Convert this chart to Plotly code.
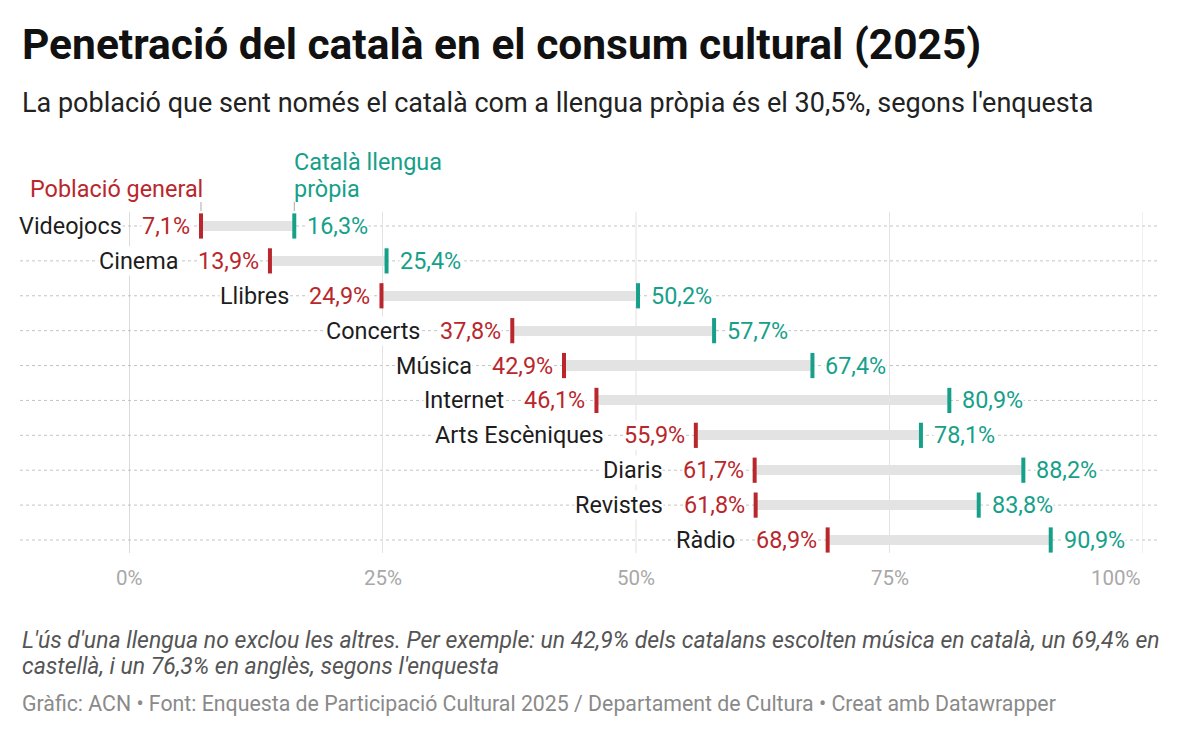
import plotly.graph_objects as go

categories = ["Videojocs", "Cinema", "Llibres", "Concerts", "Música", "Internet",
              "Arts Escèniques", "Diaris", "Revistes", "Ràdio"]
poblacio_general = [7.1, 13.9, 24.9, 37.8, 42.9, 46.1, 55.9, 61.7, 61.8, 68.9]
catala_propia = [16.3, 25.4, 50.2, 57.7, 67.4, 80.9, 78.1, 88.2, 83.8, 90.9]
tick_values = [0, 25, 50, 75, 100]
tick_labels = ["0%", "25%", "50%", "75%", "100%"]

RED = "#b9272c"
TEAL = "#16a08a"
W, H = 1200, 735
FONT = "Roboto"

def fmt(v):
    return f"{v:.1f}".replace(".", ",") + "%"

# approximate Roboto advance widths (em)
CW = {",": 0.1966, "%": 0.7325}
def text_w(s, size):
    return sum(CW.get(c, 0.5615) for c in s) * size

ys = list(range(len(categories)))

fig = go.Figure()

# range bars
fig.add_trace(go.Bar(
    y=ys, x=[c - p for p, c in zip(poblacio_general, catala_propia)],
    base=poblacio_general, orientation="h", width=0.29,
    marker=dict(color="#e3e3e3", line=dict(width=0)),
    hoverinfo="skip", showlegend=False))

fig.add_trace(go.Scatter(
    y=ys, x=poblacio_general, mode="markers",
    marker=dict(symbol="line-ns", size=18, line=dict(width=4, color=RED)),
    hoverinfo="skip", showlegend=False))
fig.add_trace(go.Scatter(
    y=ys, x=catala_propia, mode="markers",
    marker=dict(symbol="line-ns", size=18, line=dict(width=4, color=TEAL)),
    hoverinfo="skip", showlegend=False))

shapes = []
# horizontal dotted lines
for y in ys:
    shapes.append(dict(type="line", xref="paper", yref="y", x0=20 / W, x1=1158 / W,
                       y0=y, y1=y, line=dict(color="#c4c4c4", width=1, dash="dot"),
                       layer="below"))
# vertical gridlines
for t in tick_values:
    shapes.append(dict(type="line", xref="x", yref="paper", x0=t, x1=t,
                       y0=1 - 553 / H, y1=1 - 212 / H,
                       line=dict(color="#b8b8b8" if t == 0 else "#e2e2e2", width=1),
                       layer="below"))
# legend connector ticks
for xv in (poblacio_general[0], catala_propia[0]):
    shapes.append(dict(type="line", xref="x", yref="paper", x0=xv, x1=xv,
                       y0=1 - 211 / H, y1=1 - 202 / H,
                       line=dict(color="#aaaaaa", width=1)))

annotations = []
VS = 23.4
for y, cat, p, c in zip(ys, categories, poblacio_general, catala_propia):
    pl = fmt(p)
    annotations.append(dict(x=p, y=y, xref="x", yref="y", text=pl, showarrow=False,
                            xanchor="right", yanchor="middle", xshift=-10,
                            font=dict(family=FONT, size=VS, color=RED),
                            bgcolor="white", borderpad=0))
    annotations.append(dict(x=c, y=y, xref="x", yref="y", text=fmt(c), showarrow=False,
                            xanchor="left", yanchor="middle", xshift=12,
                            font=dict(family=FONT, size=VS, color=TEAL),
                            bgcolor="white", borderpad=0))
    annotations.append(dict(x=p, y=y, xref="x", yref="y", text=cat, showarrow=False,
                            xanchor="right", yanchor="middle",
                            xshift=-(10 + text_w(pl, VS) + 20),
                            font=dict(family=FONT, size=VS, color="#1d1d1d"),
                            bgcolor="white", borderpad=0))

# tick labels
for t, lab in zip(tick_values, tick_labels):
    annotations.append(dict(x=t, y=1 - 578 / H, xref="x", yref="paper", text=lab,
                            showarrow=False, xanchor="right" if t == 100 else "center",
                            yanchor="middle",
                            font=dict(family=FONT, size=20.5, color="#a8a8a8")))

# legend labels
annotations.append(dict(x=poblacio_general[0], y=1 - 189 / H, xref="x", yref="paper",
                        text="Població general", showarrow=False, xanchor="right",
                        yanchor="middle", xshift=4,
                        font=dict(family=FONT, size=VS, color=RED)))
for line_text, py in (("Català llengua", 162), ("pròpia", 189)):
    annotations.append(dict(x=catala_propia[0], y=1 - py / H, xref="x", yref="paper",
                            text=line_text, showarrow=False, xanchor="left",
                            yanchor="middle", xshift=-2,
                            font=dict(family=FONT, size=VS, color=TEAL)))

# title, subtitle, notes
annotations.append(dict(x=20 / W, y=1 - 45 / H, xref="paper", yref="paper",
                        text="<b>Penetració del català en el consum cultural (2025)</b>",
                        showarrow=False, xanchor="left", yanchor="middle",
                        font=dict(family=FONT, size=42.5, color="#111111")))
annotations.append(dict(x=20 / W, y=1 - 103 / H, xref="paper", yref="paper",
                        text="La població que sent només el català com a llengua pròpia és el 30,5%, segons l'enquesta",
                        showarrow=False, xanchor="left", yanchor="middle",
                        font=dict(family=FONT, size=27, color="#222222")))
note_lines = ["L'ús d'una llengua no exclou les altres. Per exemple: un 42,9% dels catalans escolten música en català, un 69,4% en",
              "castellà, i un 76,3% en anglès, segons l'enquesta"]
for line_text, py in zip(note_lines, (640, 666)):
    annotations.append(dict(x=20 / W, y=1 - py / H, xref="paper", yref="paper",
                            text="<i>" + line_text + "</i>",
                            showarrow=False, xanchor="left", yanchor="middle",
                            font=dict(family=FONT, size=23, color="#555555")))
annotations.append(dict(x=20 / W, y=1 - 703 / H, xref="paper", yref="paper",
                        text="Gràfic: ACN • Font: Enquesta de Participació Cultural 2025 / Departament de Cultura • Creat amb Datawrapper",
                        showarrow=False, xanchor="left", yanchor="middle",
                        font=dict(family=FONT, size=21.3, color="#8a8a8a")))

fig.update_layout(
    width=W, height=H, margin=dict(l=0, r=0, t=0, b=0),
    paper_bgcolor="white", plot_bgcolor="rgba(0,0,0,0)",
    xaxis=dict(domain=[129 / W, 1143 / W], range=[0, 100], showgrid=False,
               zeroline=False, showticklabels=False, fixedrange=True),
    yaxis=dict(domain=[1 - 553 / H, 1 - 212 / H], range=[9.373, -0.401],
               showgrid=False, zeroline=False, showticklabels=False, fixedrange=True),
    shapes=shapes, annotations=annotations, showlegend=False,
    bargap=0,
)

fig.write_html("out.html")
